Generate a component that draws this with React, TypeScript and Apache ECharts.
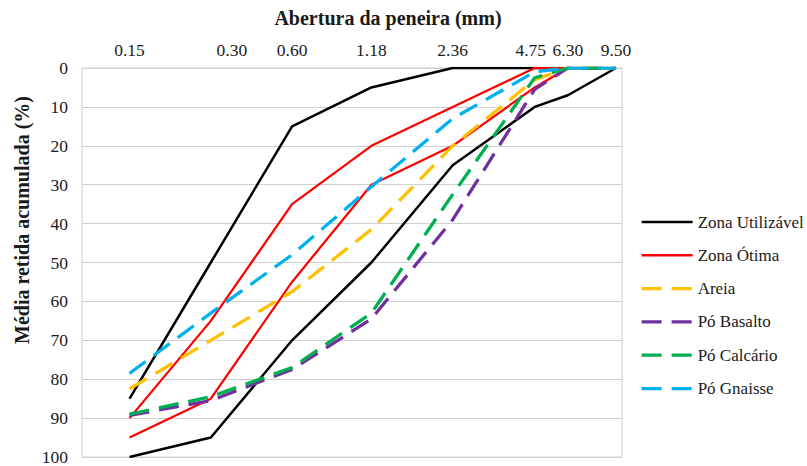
import React, { useEffect, useRef } from "react";
import * as echarts from "echarts";

const sieves = [0.15, 0.3, 0.6, 1.18, 2.36, 4.75, 6.3, 9.5];
const sieveLabels = ["0.15", "0.30", "0.60", "1.18", "2.36", "4.75", "6.30", "9.50"];
const yTicks = [0, 10, 20, 30, 40, 50, 60, 70, 80, 90, 100];

const zonaUtilizavelSup = [85, 50, 15, 5, 0, 0, 0, 0];
const zonaUtilizavelInf = [100, 95, 70, 50, 25, 10, 7, 0];
const zonaOtimaSup = [90, 65, 35, 20, 10, 0, 0, 0];
const zonaOtimaInf = [95, 85, 55, 30, 20, 5, 0, 0];
const areia = [82.5, 70, 57.5, 41.5, 20, 3, 0, 0];
const poBasalto = [89.3, 85.5, 77.5, 64.5, 39, 5.5, 0, 0];
const poCalcario = [89, 84.5, 77, 63, 32.5, 2.5, 0, 0];
const poGnaisse = [78.5, 63, 48, 30.5, 13, 1, 0, 0];

const legendNames = ["Zona Utilizável", "Zona Ótima", "Areia", "Pó Basalto", "Pó Calcário", "Pó Gnaisse"];
const legendColors = ["#000000", "#ff0000", "#ffc000", "#7030a0", "#00b050", "#00b0f0"];
const legendDashed = [false, false, true, true, true, true];

const FONT = "Liberation Serif";
const TEXT = "#1a1a1a";
const DASH = [20, 10];

const pairs = (vals: number[]) => sieves.map((s, i) => [s, vals[i]]);

export default function App() {
  const ref = useRef<HTMLDivElement>(null);
  useEffect(() => {
    if (!ref.current) return;
    const chart = echarts.init(ref.current, undefined, { renderer: "svg" });
    const solid = (name: string, color: string, vals: number[], w: number) => ({
      name,
      type: "line",
      data: pairs(vals),
      symbol: "none",
      showSymbol: false,
      lineStyle: { color, width: w, type: "solid" },
      itemStyle: { color },
      z: 2,
    });
    const dashed = (name: string, color: string, vals: number[]) => ({
      name,
      type: "line",
      data: pairs(vals),
      symbol: "none",
      showSymbol: false,
      lineStyle: { color, width: 3.25, type: DASH },
      itemStyle: { color },
      z: 3,
    });
    chart.setOption({
      animation: false,
      textStyle: { fontFamily: FONT, color: TEXT },
      grid: {
        left: 82,
        top: 68,
        right: 185,
        bottom: 9,
        show: true,
        borderColor: "#d0d0d0",
        borderWidth: 1,
      },
      graphic: [
        {
          type: "text",
          x: 388,
          y: 18,
          style: {
            text: "Abertura da peneira (mm)",
            textAlign: "center",
            textVerticalAlign: "middle",
            fontFamily: FONT,
            fontSize: 20,
            fontWeight: "bold",
            fill: TEXT,
          },
        },
        {
          type: "text",
          x: 22,
          y: 220,
          rotation: Math.PI / 2,
          style: {
            text: "Média retida acumulada (%)",
            textAlign: "center",
            textVerticalAlign: "middle",
            fontFamily: FONT,
            fontSize: 20,
            fontWeight: "bold",
            fill: TEXT,
          },
        },
      ],
      legend: {
        orient: "vertical",
        left: 640,
        top: 212,
        padding: 0,
        itemWidth: 51,
        itemHeight: 14,
        itemGap: 13.3,
        itemStyle: { opacity: 0 },
        textStyle: { fontFamily: FONT, fontSize: 17, color: TEXT, lineHeight: 20 },
        data: legendNames.map((n, i) => ({
          name: n,
          itemStyle: { opacity: 0 },
          lineStyle: {
            color: legendColors[i],
            width: legendDashed[i] ? 3.25 : 2.5,
            type: legendDashed[i] ? DASH : "solid",
          },
        })),
      },
      xAxis: {
        type: "log",
        logBase: 10,
        position: "top",
        min: 0.1,
        max: 10,
        axisLine: { show: false },
        axisTick: { show: false },
        splitLine: { show: false },
        minorTick: { show: false },
        axisLabel: {
          customValues: sieves,
          formatter: (v: number) => {
            const i = sieves.findIndex((s) => Math.abs(s - v) < 1e-6);
            if (i < 0) return "";
            if (i === 1) return `{r|${sieveLabels[i]}}`;
            if (i === 5) return `{l|${sieveLabels[i]}}`;
            return sieveLabels[i];
          },
          fontFamily: FONT,
          fontSize: 17.5,
          color: TEXT,
          margin: 9,
          rich: {
            r: { fontFamily: FONT, fontSize: 17.5, color: TEXT, padding: [0, 0, 0, 42] },
            l: { fontFamily: FONT, fontSize: 17.5, color: TEXT, padding: [0, 8, 0, 0] },
          },
        },
      },
      yAxis: {
        type: "value",
        inverse: true,
        min: 0,
        max: 100,
        interval: 10,
        axisLine: { show: false },
        axisTick: { show: false },
        splitLine: { show: true, lineStyle: { color: "#d0d0d0", width: 1 } },
        axisLabel: {
          fontFamily: FONT,
          fontSize: 17.5,
          color: TEXT,
          margin: 14,
          formatter: (v: number) => (yTicks.includes(v) ? String(v) : ""),
        },
      },
      series: [
        solid("Zona Utilizável", "#000000", zonaUtilizavelSup, 2.5),
        solid("Zona Utilizável", "#000000", zonaUtilizavelInf, 2.5),
        solid("Zona Ótima", "#ff0000", zonaOtimaSup, 2.25),
        solid("Zona Ótima", "#ff0000", zonaOtimaInf, 2.25),
        dashed("Areia", "#ffc000", areia),
        dashed("Pó Basalto", "#7030a0", poBasalto),
        dashed("Pó Calcário", "#00b050", poCalcario),
        dashed("Pó Gnaisse", "#00b0f0", poGnaisse),
      ],
    });
    return () => chart.dispose();
  }, []);
  return (
    <div
      ref={ref}
      style={{ position: "absolute", left: 0, top: 0, width: 807, height: 466, background: "#fff" }}
    />
  );
}
